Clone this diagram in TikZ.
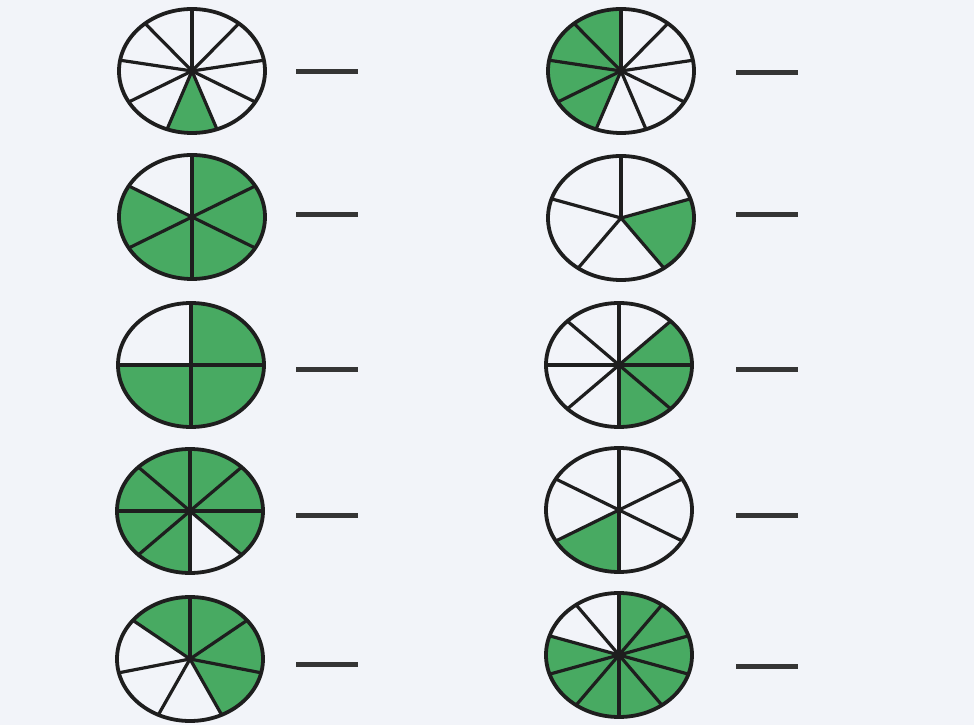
\documentclass[tikz,border=0pt]{standalone}
\definecolor{paper}{RGB}{242,244,249}
\definecolor{pieg}{RGB}{72,170,98}
\definecolor{ink}{RGB}{30,30,30}
\tikzset{
  rimline/.style={draw=ink, line width=3.8pt},
  spokeline/.style={draw=ink, line width=3.2pt, line cap=round},
  shade/.style={fill=pieg},
  answerbar/.style={fill=ink!90, inner sep=0pt, minimum width=62pt, minimum height=5pt, draw=none}
}
% #1 name, #2 x, #3 y, #4 number of parts, #5 first spoke angle, #6 shaded parts
\newcommand{\fracpie}[6]{%
  \begin{scope}[shift={(#2,#3)}]
    \coordinate (#1) at (0,0);
    \pgfmathsetmacro{\stp}{360/#4}
    \foreach \k in {#6}{
      \pgfmathsetmacro{\aa}{#5+\k*\stp}
      \fill[shade] (0,0) -- (\aa:73pt and 62pt) arc[start angle=\aa, delta angle=\stp, x radius=73pt, y radius=62pt] -- cycle;
    }
    \foreach \k in {1,...,#4}{
      \pgfmathsetmacro{\aa}{#5+\k*\stp}
      \draw[spokeline] (0,0) -- (\aa:73pt and 62pt);
    }
    \draw[rimline] (0,0) ellipse[x radius=73pt, y radius=62pt];
  \end{scope}}
\begin{document}
\begin{tikzpicture}[x=1pt,y=1pt]
  \fill[paper] (0,0) rectangle (974,725);
  \useasboundingbox (0,0) rectangle (974,725);
  % left column
  \fracpie{pa}{192}{654}{9}{90}{4}
  \fracpie{pb}{192}{508}{6}{90}{1,2,3,4,5}
  \fracpie{pc}{191}{360}{4}{0}{0,2,3}
  \fracpie{pd}{190}{214}{8}{0}{0,1,2,3,4,5,7}
  \fracpie{pe}{190}{66}{7}{90}{0,4,5,6}
  % right column
  \fracpie{qa}{621}{654}{9}{90}{0,1,2,3}
  \fracpie{qb}{621}{507}{5}{90}{3}
  \fracpie{qc}{619}{360}{8}{0}{0,6,7}
  \fracpie{qd}{619}{215}{6}{90}{2}
  \fracpie{qe}{619}{70}{10}{90}{2,3,4,5,6,7,8,9}
  % answer bars
  \node[answerbar] (ba) at (327,653) {};
  \node[answerbar] (bb) at (327,510) {};
  \node[answerbar] (bc) at (327,355) {};
  \node[answerbar] (bd) at (327,209) {};
  \node[answerbar] (be) at (327,60) {};
  \node[answerbar] (ca) at (767,652) {};
  \node[answerbar] (cb) at (767,510) {};
  \node[answerbar] (cc) at (767,355) {};
  \node[answerbar] (cd) at (767,209) {};
  \node[answerbar] (ce) at (767,58) {};
\end{tikzpicture}
\end{document}
